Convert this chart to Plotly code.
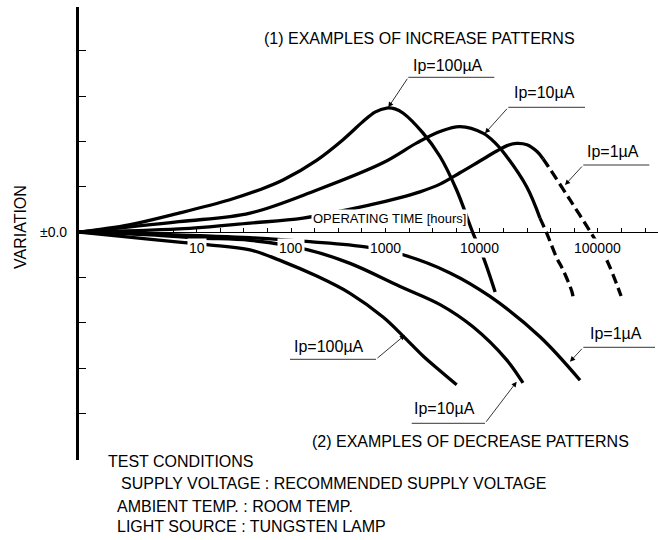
import math
import plotly.graph_objects as go

# Figure geometry (pixels)
W, H = 658, 540
ML, MR, MT, MB = 79, 0, 7, 80
FONT = "Liberation Sans, Arial, sans-serif"

# Operating time in hours / variation (arbitrary units)
inc_100_h = [0.566, 1.92, 6.49, 22.0, 45.7, 82.1, 188, 355, 578, 774, 1030, 1260, 1530, 2490, 3780, 5670, 8450, 10800, 14500]
inc_100_v = [0, 0.16, 0.42, 0.71, 0.93, 1.15, 1.59, 2.04, 2.44, 2.65, 2.74, 2.72, 2.63, 2.19, 1.67, 0.93, -0.02, -0.54, -1.32]

inc_10_h = [0.566, 6.49, 36.7, 188, 940, 2150, 3780, 6150, 10900, 14500, 19200, 31300, 43300]
inc_10_v = [0, 0.23, 0.42, 0.93, 1.53, 1.97, 2.22, 2.33, 2.18, 1.97, 1.67, 1.00, 0.31]
inc_10_dash_h = [43300, 51000, 65200, 75900, 94600, 97300]
inc_10_dash_v = [0.31, -0.02, -0.57, -0.83, -1.32, -1.45]

inc_1_h = [0.566, 6.49, 36.7, 134, 686, 1430, 2320, 3780, 6150, 10000, 15100, 19400, 24500, 31500, 40300, 46600]
inc_1_v = [0, 0.07, 0.20, 0.31, 0.60, 0.76, 0.89, 1.06, 1.31, 1.57, 1.79, 1.91, 1.96, 1.93, 1.78, 1.62]
inc_1_dash_h = [46600, 53000, 90200, 159000, 220000, 313000]
inc_1_dash_v = [1.62, 1.45, 0.71, -0.10, -0.61, -1.41]

dec_1_h = [0.566, 3.21, 10.8, 36.7, 158, 637, 1530, 4820, 12800, 43300, 115000]
dec_1_v = [0, -0.04, -0.08, -0.12, -0.21, -0.33, -0.50, -0.90, -1.42, -2.31, -3.27]

dec_10_h = [0.566, 3.21, 10.8, 36.7, 151, 421, 1430, 3870, 8450, 19200, 28600]
dec_10_v = [0, -0.06, -0.13, -0.18, -0.39, -0.69, -1.20, -1.61, -2.09, -2.82, -3.33]

dec_100_h = [0.566, 1.92, 6.49, 13.5, 36.7, 82.1, 187, 421, 948, 1545, 2515, 3780, 5675]
dec_100_v = [0, -0.11, -0.22, -0.28, -0.39, -0.65, -0.97, -1.35, -1.88, -2.30, -2.74, -3.06, -3.37]

# Axis ticks
x_tick_hours = [10 ** (0.75 + 0.25 * k) for k in range(21)]
x_label_text = ["10", "100", "1000", "10000", "100000"]
x_label_hours = [10, 100, 1000, 10000, 177800]
y_tick_vals = [-4, -3, -2, -1, 1, 2, 3, 4]

X_RANGE = [-0.2468, 5.8867]
Y_RANGE = [-5.03, 4.97]


def px(x):
    return (x - ML) / (W - ML - MR)


def py(y):
    return (H - MB - y) / (H - MT - MB)


fig = go.Figure()


def add_curve(hours, vals, dash='solid'):
    fig.add_trace(go.Scatter(
        x=hours, y=vals, mode='lines',
        line=dict(color='black', width=3.3, dash=dash, shape='spline', smoothing=1.0),
        showlegend=False, hoverinfo='skip'
    ))


add_curve(inc_100_h, inc_100_v)
add_curve(inc_10_h, inc_10_v)
add_curve(inc_10_dash_h, inc_10_dash_v, dash='10px,5px')
add_curve(inc_1_h, inc_1_v)
add_curve(inc_1_dash_h, inc_1_dash_v, dash='10px,5px')
add_curve(dec_1_h, dec_1_v)
add_curve(dec_10_h, dec_10_v)
add_curve(dec_100_h, dec_100_v)


def add_text(txt, x, y, size, xanchor='left', **kw):
    fig.add_annotation(x=px(x), y=py(y), xref='paper', yref='paper',
                       xanchor=xanchor, yanchor='middle', text=txt, showarrow=False,
                       font=dict(family=FONT, size=size, color='black'), **kw)


# Tick labels along the time axis (white boxes break the curves)
for txt, h in zip(x_label_text, x_label_hours):
    fig.add_annotation(x=math.log10(h), y=py(248.5), xref='x', yref='paper',
                       xanchor='center', yanchor='middle',
                       text=txt, showarrow=False, bgcolor='white', borderpad=1,
                       font=dict(family=FONT, size=14, color='black'))

add_text('OPERATING TIME [hours]', 311, 219, 13, bgcolor='white', borderpad=1)

# Free text
texts = [
    ('(1) EXAMPLES OF INCREASE PATTERNS', 262, 38),
    ('(2) EXAMPLES OF DECREASE PATTERNS', 310, 441.7),
    ('TEST CONDITIONS', 106, 461.7),
    ('SUPPLY VOLTAGE : RECOMMENDED SUPPLY VOLTAGE', 119, 483.3),
    ('AMBIENT TEMP. : ROOM TEMP.', 115, 506),
    ('LIGHT SOURCE : TUNGSTEN LAMP', 115, 526.7),
]
for txt, x, y in texts:
    add_text(txt, x, y, 16)

add_text('±0.0', 69, 232.2, 14, xanchor='right')
add_text('VARIATION', 20, 227, 16, xanchor='center', textangle=-90)

# Ip labels: (text, text left, text y, underline y, underline x0, x1, tail x, head x, head y)
ip_labels = [
    ('Ip=100µA', 411, 65, 77.3, 408.3, 494.3, 408.3, 388.3, 107.3),
    ('Ip=10µA', 511.7, 92.7, 107.3, 508.3, 585, 508.3, 485, 133.3),
    ('Ip=1µA', 585, 151.7, 165, 583.3, 649.3, 583.3, 565, 185),
    ('Ip=100µA', 291.7, 346.7, 359.3, 290, 376, 376, 405, 335),
    ('Ip=10µA', 411.7, 408.3, 423.3, 411.7, 485, 485, 516.7, 381.7),
    ('Ip=1µA', 588, 333.3, 347.3, 583.3, 655, 583.3, 570, 361.7),
]
for txt, tx, ty, uy, ux0, ux1, tailx, hx, hy in ip_labels:
    add_text(txt, tx, ty, 16)
    fig.add_shape(type='line', xref='paper', yref='paper',
                  x0=px(ux0), x1=px(ux1), y0=py(uy), y1=py(uy),
                  line=dict(color='black', width=0.8))
    fig.add_annotation(x=px(hx), y=py(hy), xref='paper', yref='paper',
                       ax=tailx - hx, ay=uy - hy, text='', showarrow=True,
                       arrowhead=2, arrowsize=1.3, arrowwidth=0.8, arrowcolor='black')

fig.update_layout(
    width=W, height=H,
    margin=dict(l=ML, r=MR, t=MT, b=MB, pad=0),
    plot_bgcolor='white', paper_bgcolor='white',
    showlegend=False,
    xaxis=dict(
        type='log', range=X_RANGE, anchor='free', position=py(232.2),
        showline=True, linecolor='black', linewidth=1,
        ticks='inside', ticklen=4, tickwidth=1, tickcolor='black',
        tickvals=x_tick_hours, showticklabels=False,
        showgrid=False, zeroline=False
    ),
    yaxis=dict(
        range=Y_RANGE,
        showline=True, linecolor='black', linewidth=2.5,
        ticks='inside', ticklen=7, tickwidth=1, tickcolor='black',
        tickvals=y_tick_vals, showticklabels=False,
        showgrid=False, zeroline=False
    )
)

# drop the default page margin so the figure sits at the window's top-left corner
fig.write_html("out.html", config={'displayModeBar': False},
               post_script="document.body.style.margin='0';")
